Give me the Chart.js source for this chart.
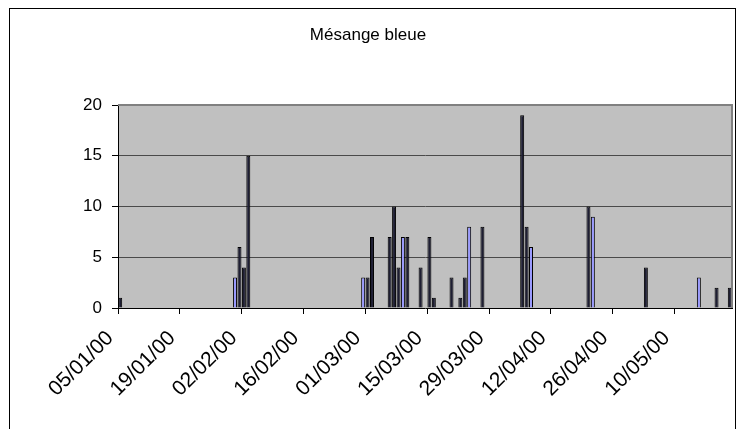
<!DOCTYPE html>
<html>
<head>
<meta charset="utf-8">
<script src="https://cdn.jsdelivr.net/npm/chart.js@4.4.1/dist/chart.umd.min.js"></script>
<style>
  html, body { margin: 0; padding: 0; background: #fff; }
  #wrap { width: 739px; height: 429px; position: relative; }
</style>
</head>
<body>
<div id="wrap"><canvas id="chart"></canvas></div>
<script>
const TITLE = 'Mésange bleue';

// premier et dernier jour de l'axe
const firstDay = '05/01/00';
const lastDay = '22/05/00';

// série foncée
const darkDates = ['05/01/00', '01/02/00', '02/02/00', '03/02/00', '01/03/00', '02/03/00',
  '06/03/00', '07/03/00', '08/03/00', '10/03/00', '13/03/00', '15/03/00', '16/03/00',
  '20/03/00', '22/03/00', '23/03/00', '27/03/00', '05/04/00', '06/04/00', '20/04/00',
  '03/05/00', '19/05/00', '22/05/00'];
const darkValues = [1, 6, 4, 15, 3, 7, 7, 10, 4, 7, 4, 7, 1, 3, 1, 3, 8, 19, 8, 10, 4, 2, 2];

// série bleue
const blueDates = ['31/01/00', '29/02/00', '09/03/00', '24/03/00', '07/04/00', '21/04/00', '15/05/00'];
const blueValues = [3, 3, 7, 8, 6, 9, 3];

const tickLabels = ['05/01/00', '19/01/00', '02/02/00', '16/02/00', '01/03/00',
  '15/03/00', '29/03/00', '12/04/00', '26/04/00', '10/05/00'];
const yTicks = [0, 5, 10, 15, 20];

const FONT = 'Liberation Sans, Arial, sans-serif';

function parseDate(s) {
  const [d, m, y] = s.split('/').map(Number);
  return new Date(Date.UTC(2000 + y, m - 1, d));
}
function fmt(dt) {
  const p = n => String(n).padStart(2, '0');
  return p(dt.getUTCDate()) + '/' + p(dt.getUTCMonth() + 1) + '/' + p(dt.getUTCFullYear() % 100);
}

// une catégorie par jour
const days = [];
for (let t = parseDate(firstDay); t <= parseDate(lastDay); t = new Date(t.getTime() + 86400000)) {
  days.push(fmt(t));
}

function toSeries(dates, values) {
  const out = days.map(() => null);
  dates.forEach((d, i) => { out[days.indexOf(d)] = values[i]; });
  return out;
}

const frame = {
  id: 'frame',
  beforeDraw(chart) {
    const { ctx, chartArea: a } = chart;
    ctx.save();
    ctx.fillStyle = '#c0c0c0';
    ctx.fillRect(a.left, a.top, a.right - a.left, a.bottom - a.top);
    ctx.strokeStyle = '#000';
    ctx.lineWidth = 1;
    ctx.strokeRect(9.5, 8.5, 726, 440);
    ctx.fillStyle = '#000';
    ctx.font = '17px ' + FONT;
    ctx.textAlign = 'center';
    ctx.textBaseline = 'middle';
    ctx.fillText(TITLE, 368, 35);
    ctx.restore();
  },
  afterDraw(chart) {
    const { ctx, chartArea: a } = chart;
    ctx.save();
    ctx.strokeStyle = '#808080';
    ctx.lineWidth = 2;
    ctx.beginPath();
    ctx.moveTo(a.left, a.top);
    ctx.lineTo(a.right, a.top);
    ctx.lineTo(a.right, a.bottom);
    ctx.stroke();
    ctx.restore();
  }
};

new Chart(document.getElementById('chart'), {
  type: 'bar',
  data: {
    labels: days,
    datasets: [{
      label: 'bleue',
      data: toSeries(blueDates, blueValues),
      backgroundColor: '#9999ff',
      borderColor: '#000',
      borderWidth: 1,
      grouped: false,
      categoryPercentage: 1,
      barPercentage: 0.9
    }, {
      label: 'foncée',
      data: toSeries(darkDates, darkValues),
      backgroundColor: '#1e1e33',
      borderColor: '#000',
      borderWidth: 1,
      grouped: false,
      categoryPercentage: 1,
      barPercentage: 0.9
    }]
  },
  options: {
    responsive: true,
    maintainAspectRatio: false,
    animation: false,
    layout: { padding: { top: 105, right: 7, left: 0, bottom: 0 } },
    plugins: {
      legend: { display: false },
      title: { display: false },
      tooltip: { enabled: false }
    },
    scales: {
      x: {
        type: 'category',
        offset: true,
        grid: {
          offset: true,
          drawOnChartArea: false,
          drawTicks: true,
          tickLength: 6,
          color: c => (days[c.index] && tickLabels.includes(days[c.index])) ? '#000' : 'rgba(0,0,0,0)'
        },
        border: { color: '#000', width: 1 },
        ticks: {
          autoSkip: false,
          maxRotation: 45,
          minRotation: 45,
          padding: 12,
          labelOffset: -10,
          color: '#000',
          font: { family: FONT, size: 21 },
          callback: (v, i) => tickLabels.includes(days[i]) ? days[i] : ''
        },
        afterFit(s) {
          s.height = 121;
          s.paddingLeft = 0;
          s.paddingRight = 0;
        }
      },
      y: {
        min: 0,
        max: 20,
        afterBuildTicks(s) { s.ticks = yTicks.map(v => ({ value: v })); },
        grid: {
          color: c => c.tick && c.tick.value === 0 ? 'rgba(0,0,0,0)' : '#4a4a4a',
          tickColor: '#000',
          tickLength: 6
        },
        border: { color: '#000', width: 1 },
        ticks: {
          padding: 10,
          color: '#000',
          font: { family: FONT, size: 17 }
        },
        afterFit(s) { s.width = 118; }
      }
    }
  },
  plugins: [frame]
});
</script>
</body>
</html>
